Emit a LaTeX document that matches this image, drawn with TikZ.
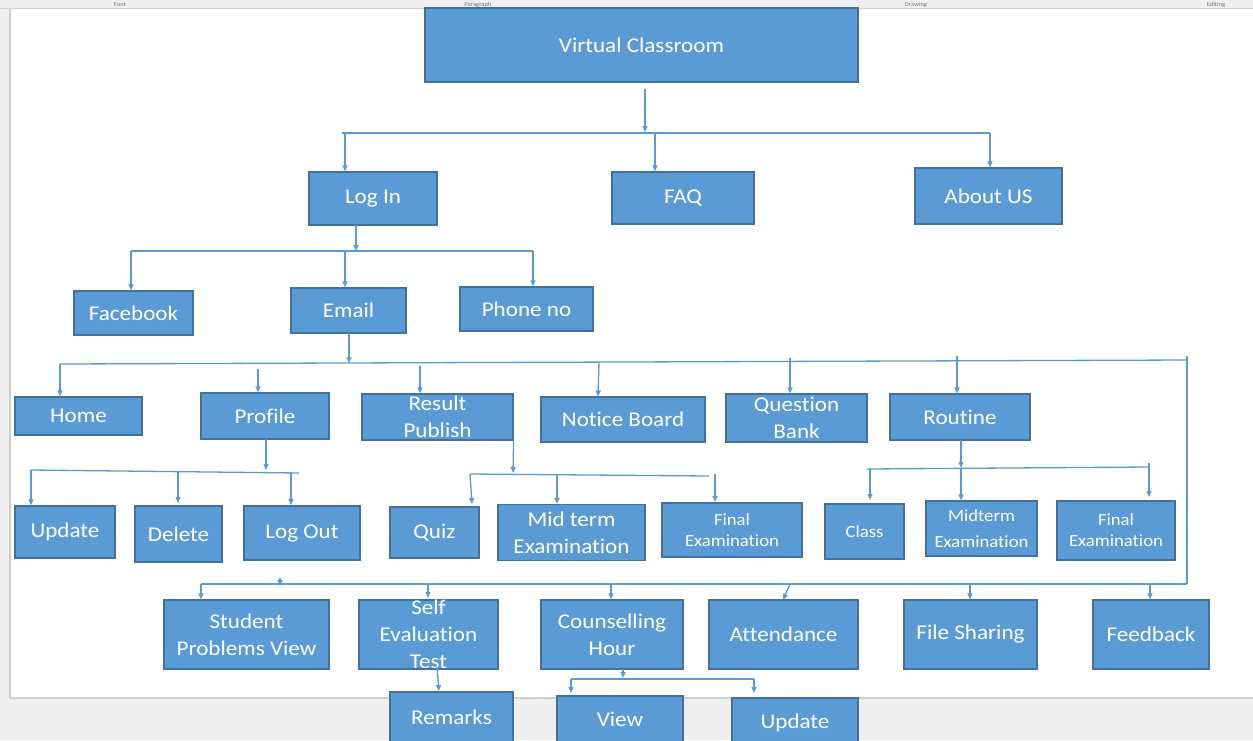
\documentclass[tikz,border=0pt]{standalone}
\usepackage{fontspec}
\setmainfont{Carlito}[FakeStretch=1.1,Ligatures=CommonOff]
\usetikzlibrary{arrows.meta,calc}
\definecolor{boxfill}{HTML}{5B9BD5}
\definecolor{boxline}{HTML}{41719C}
\definecolor{conn}{HTML}{5B9BD5}
\definecolor{pagegray}{HTML}{EFEFEF}
\definecolor{pageedge}{HTML}{CFCFCF}
\definecolor{ribbontext}{HTML}{777777}
\begin{document}
\begin{tikzpicture}[x=1pt,y=-1pt,
  box/.style={draw=boxline, line width=1.2pt, fill=boxfill, text=white, inner sep=0pt,
              align=center, font=\fontsize{21}{27}\selectfont},
  smalltext/.style={font=\fontsize{17}{21}\selectfont},
  ln/.style={draw=conn, line width=1.3pt},
  arr/.style={ln, -{Triangle[length=6pt,width=5pt]}},
  ribbon/.style={text=ribbontext, font=\fontsize{6}{7}\selectfont, anchor=base, inner sep=0pt}]
\useasboundingbox (0,0) rectangle (1253,740);
% page background
\fill[pagegray] (0,0) rectangle (1253,740);
\fill[white] (10,8) rectangle (1253,698);
\draw[pageedge, line width=1pt] (0,8) -- (1253,8);
\draw[pageedge, line width=1.5pt] (10,8) -- (10,698) -- (1253,698);
\node[ribbon] (rb1) at (120,6) {Font};
\node[ribbon] (rb2) at (478,6) {Paragraph};
\node[ribbon] (rb3) at (916,6) {Drawing};
\node[ribbon] (rb4) at (1216,6) {Editing};

% ---------- boxes ----------
\node[box, minimum width=433, minimum height=74, font=\fontsize{21}{25}\selectfont] (vc) at (641.5,45) {Virtual Classroom};
\node[box, minimum width=128, minimum height=53] (login) at (373,198.5) {Log In};
\node[box, minimum width=142, minimum height=52] (faq) at (683,198) {FAQ};
\node[box, minimum width=147, minimum height=56] (about) at (988.5,196) {About US};

\node[box, minimum width=119, minimum height=44] (fb) at (133.5,313) {Facebook};
\node[box, minimum width=115, minimum height=45] (email) at (348.5,310.5) {Email};
\node[box, minimum width=133, minimum height=44] (phone) at (526.5,309) {Phone no};

\node[box, minimum width=127, minimum height=38] (home) at (78.5,416) {Home};
\node[box, minimum width=128, minimum height=46] (profile) at (265,416) {Profile};
\node[box, minimum width=151, minimum height=46] (result) at (437.5,417) {Result\\Publish};
\node[box, minimum width=164, minimum height=45] (notice) at (623,419.5) {Notice Board};
\node[box, minimum width=141, minimum height=48] (qbank) at (796.5,418) {Question\\Bank};
\node[box, minimum width=140, minimum height=46] (routine) at (960,417) {Routine};

\node[box, minimum width=100, minimum height=52] (upd1) at (65,532) {Update};
\node[box, minimum width=87, minimum height=56] (delete) at (178.5,534) {Delete};
\node[box, minimum width=116, minimum height=54] (logout) at (302,533) {Log Out};
\node[box, minimum width=89, minimum height=51] (quiz) at (434.5,532.5) {Quiz};
\node[box, minimum width=147, minimum height=56] (mid1) at (571.5,532.5) {Mid term\\Examination};
\node[box, smalltext, minimum width=140, minimum height=54] (final1) at (732,530) {Final\\Examination};
\node[box, smalltext, minimum width=79, minimum height=55] (class) at (864.5,531.5) {Class};
\node[box, smalltext, minimum width=111, minimum height=55, font=\fontsize{17}{26}\selectfont] (mid2) at (981.5,528.5) {Midterm\\Examination};
\node[box, smalltext, minimum width=118, minimum height=59] (final2) at (1116,530.5) {Final\\Examination};

\node[box, minimum width=165, minimum height=69] (spv) at (246.5,634.5) {Student\\Problems View};
\node[box, minimum width=139, minimum height=69] (self) at (428.5,634.5) {Self\\Evaluation\\Test};
\node[box, minimum width=142, minimum height=69] (couns) at (612,634.5) {Counselling\\Hour};
\node[box, minimum width=149, minimum height=69] (attend) at (783.5,634.5) {Attendance};
\node[box, minimum width=133, minimum height=69] (files) at (970.5,634.5) {File Sharing};
\node[box, minimum width=116, minimum height=69] (feed) at (1151,634.5) {Feedback};

\node[box, minimum width=123, minimum height=50] (remarks) at (451.5,717) {Remarks};
\node[box, minimum width=126, minimum height=46] (view) at (620,719) {View};
\node[box, minimum width=126, minimum height=50] (upd2) at (795,723) {Update};

% ---------- connectors ----------
% top level
\coordinate (t0) at (645,89);
\coordinate (t1) at (645,132);
\coordinate (tL) at (342,133);
\coordinate (tR) at (990,133);
\draw[arr] (t0) -- (t1);
\draw[ln] (tL) -- (tR);
\draw[arr] (345,133) -- (345,133 |- login.north);
\draw[arr] (655,133) -- (655,133 |- faq.north);
\draw[arr] (tR) -- (tR |- about.north);

% log in
\coordinate (l0) at (356,225);
\coordinate (lL) at (131,251);
\coordinate (lR) at (533,251);
\draw[arr] (l0) -- (356,251);
\draw[ln] (lL) -- (lR);
\draw[arr] (lL) -- (lL |- fb.north);
\draw[arr] (345,251) -- (345,251 |- email.north);
\draw[arr] (lR) -- (lR |- phone.north);

% email
\coordinate (e0) at (349,333);
\coordinate (eL) at (60,364);
\coordinate (eR) at (1187,360);
\coordinate (eB) at (1187,584);
\draw[arr] (e0) -- (349,363);
\draw[ln] (eL) -- (eR);
\draw[ln] (1187,356) -- (eB);
\draw[arr] (eL) -- (eL |- home.north);
\draw[arr] (258,369) -- (258,369 |- profile.north);
\draw[arr] (420,366) -- (420,366 |- result.north);
\draw[arr] (599,362) -- (598,362 |- notice.north);
\draw[arr] (790,358) -- (790,358 |- qbank.north);
\draw[arr] (957,356) -- (957,356 |- routine.north);

% profile
\coordinate (p0) at (266,439);
\coordinate (pL) at (31,470);
\coordinate (pR) at (299,473);
\draw[arr] (p0) -- (266,470);
\draw[ln] (pL) -- (pR);
\draw[arr] (pL) -- (pL |- upd1.north);
\draw[arr] (178,471) -- (178,503);
\draw[arr] (291,472) -- (291,505);

% result publish
\coordinate (r0) at (result.south east);
\coordinate (rL) at (470,474);
\coordinate (rR) at (709,476);
\draw[arr] (r0) -- (513,473);
\draw[ln] (rL) -- (rR);
\draw[arr] (rL) -- (472,504);
\draw[arr] (557,474) -- (557,474 |- mid1.north);
\draw[arr] (715,474) -- (715,502);

% routine
\coordinate (o0) at (961,440);
\coordinate (oL) at (867,469);
\coordinate (oR) at (1149,467);
\draw[arr] (o0) -- (961,468);
\draw[ln] (oL) -- (oR);
\draw[ln] (1149,463) -- (oR);
\draw[arr] (870,469) -- (870,500);
\draw[arr] (961,468) -- (961,468 |- mid2.north);
\draw[arr] (oR) -- (1149,497);

% bottom row
\coordinate (bL) at (201,584);
\draw[ln] (bL) -- (eB);
\draw[arr] (280,578) -- (280,586);
\draw[arr] (bL) -- (bL |- spv.north);
\draw[arr] (428,585) -- (428,598);
\draw[arr] (611,584) -- (611,584 |- couns.north);
\draw[arr] (790,584) -- (783,600);
\draw[arr] (970,584) -- (970,584 |- files.north);
\draw[arr] (1150,584) -- (1150,584 |- feed.north);

% self evaluation -> remarks
\draw[arr] (437,667) -- (439,691);

% counselling
\coordinate (c0) at (623,669);
\coordinate (cL) at (571,679);
\coordinate (cR) at (754,679);
\draw[arr] (c0) -- (623,678);
\draw[ln] (cL) -- (cR);
\draw[arr] (cL) -- (571,693);
\draw[arr] (cR) -- (754,693);
\end{tikzpicture}
\end{document}
